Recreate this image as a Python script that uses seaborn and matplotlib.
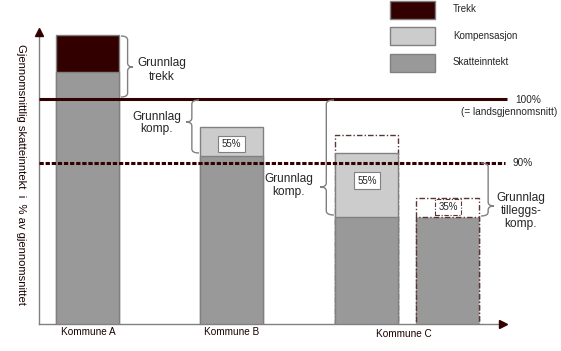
import numpy as np
import pandas as pd
import matplotlib.pyplot as plt
from matplotlib.patches import Rectangle, PathPatch
from matplotlib.path import Path
import seaborn as sns

sns.set_style("white")
plt.rcParams["font.family"] = ["Liberation Sans", "DejaVu Sans"]

# values, in % of national average
bar_ids = ["Kommune A", "Kommune B", "Kommune C", "Kommune C tillegg"]
skatteinntekt = [104.2, 91.0, 81.5, 81.5]
kompensasjon = [0.0, 4.6, 10.1, 0.0]
tilleggskomp = [0.0, 0.0, 2.8, 3.0]
trekk = [5.8, 0.0, 0.0, 0.0]
satser = ["", "55%", "55%", "35%"]
landsgjennomsnitt = 100
terskel = 90
legend_labels = ["Trekk", "Kompensasjon", "Skatteinntekt"]

TREKK = "#330000"
KOMP = "#cccccc"
SKATT = "#999999"
EDGE = "#808080"
DASH = "#5a3535"
DASHSTYLE = (0, (4, 1.5, 1, 1.5))

# layout (x axis runs in pixel units)
bar_x = [87.5, 231.5, 366.5, 447.5]
BAR_W = 63

df = pd.DataFrame({"x": bar_x, "skatt": skatteinntekt, "komp": kompensasjon,
                   "till": tilleggskomp, "trekk": trekk})
df["komp_top"] = df["skatt"] + df["komp"]
df["till_top"] = df["komp_top"] + df["till"]
df["trekk_top"] = df["skatt"] + df["trekk"]

fig = plt.figure(figsize=(5.61, 3.51), dpi=100)
ax = fig.add_axes([39 / 561, 27 / 351, 464 / 561, 292 / 351])


def layer(col, mask, **kw):
    d = df[mask]
    xs = np.sort(d["x"].to_numpy())
    unit = np.diff(xs).min() if len(xs) > 1 else 1
    sns.barplot(data=d, x="x", y=col, native_scale=True, orient="x",
                width=BAR_W / unit, errorbar=None, saturation=1,
                linewidth=1, ax=ax, **kw)


only_till = (df["komp"] == 0) & (df["till"] > 0)
layer("till_top", df["till"] > 0, color="white", edgecolor=DASH, linestyle=DASHSTYLE)
layer("trekk_top", df["trekk"] > 0, color=TREKK, edgecolor=EDGE)
layer("komp_top", df["komp"] > 0, color=KOMP, edgecolor=EDGE)
layer("skatt", ~only_till, color=SKATT, edgecolor=EDGE)
layer("skatt", only_till, color=SKATT, edgecolor=DASH, linestyle=DASHSTYLE)

ax.hlines(landsgjennomsnitt, 39, 507, color=TREKK, lw=2.2, clip_on=False, zorder=3)
ax.hlines(terskel, 39, 505, color=TREKK, lw=2.2, linestyles=[(0, (1.4, 0.6))],
          clip_on=False, zorder=3)

ax.set_xlim(39, 503)
ax.set_ylim(64.68, 110.52)
ax.set_xticks([])
ax.set_yticks([])
ax.set_xlabel("")
ax.set_ylabel("")
sns.despine(ax=ax)
for s in ("left", "bottom"):
    ax.spines[s].set_color(EDGE)
    ax.spines[s].set_linewidth(1)
ax.plot([39], [110.52], marker="^", ms=6, color=TREKK, clip_on=False, zorder=4)
ax.plot([503], [64.68], marker=">", ms=6, color=TREKK, clip_on=False, zorder=4)

# overlay in image pixel coordinates for the annotations
ov = fig.add_axes([0, 0, 1, 1], facecolor="none")
ov.set_xlim(0, 561)
ov.set_ylim(351, 0)
ov.axis("off")


def brace(x_end, x_tip, y0, y1, ym, r=4):
    xs = x_end + 0.55 * (x_tip - x_end)
    verts = [(x_end, y0), (xs, y0), (xs, y0 + r), (xs, ym - r), (xs, ym), (x_tip, ym),
             (xs, ym), (xs, ym + r), (xs, y1 - r), (xs, y1), (x_end, y1)]
    codes = [Path.MOVETO, Path.CURVE3, Path.CURVE3, Path.LINETO, Path.CURVE3, Path.CURVE3,
             Path.CURVE3, Path.CURVE3, Path.LINETO, Path.CURVE3, Path.CURVE3]
    ov.add_patch(PathPatch(Path(verts, codes), fill=False, ec=EDGE, lw=1))


brace(121, 133, 36, 97, 67)
brace(199, 186, 100, 153, 122)
brace(334, 320, 100, 215, 187)
brace(481, 494, 163, 216, 206)

big = dict(fontsize=8.6, ha="center", va="center")
ov.text(162, 70, "Grunnlag\ntrekk", linespacing=1.18, **big)
ov.text(157, 123, "Grunnlag\nkomp.", linespacing=1.05, **big)
ov.text(289, 185.5, "Grunnlag\nkomp.", linespacing=1.12, **big)
ov.text(521, 211, "Grunnlag\ntilleggs-\nkomp.", linespacing=1.15, **big)

small = dict(fontsize=7.2, va="center")
ov.text(515, 100, "100%", ha="left", **small)
ov.text(461, 112, "(= landsgjennomsnitt)", ha="left", **small)
ov.text(513, 163, "90%", ha="left", **small)

box = dict(boxstyle="square,pad=0.35", fc="white", ec=EDGE, lw=0.8)
dbox = dict(boxstyle="square,pad=0.35", fc="white", ec=DASH, lw=0.8, ls=DASHSTYLE)
label_pos = [None, (231.5, 144), (367, 180.5), (448, 207)]
for lab, pos in zip(satser, label_pos):
    if lab:
        ov.text(*pos, lab, fontsize=7, ha="center", va="center",
                bbox=dbox if lab == "35%" else box, zorder=5)

for name, xy in zip(["Kommune A", "Kommune B", "Kommune C"], [(88, 332), (232, 332), (404, 334)]):
    ov.text(*xy, name, fontsize=7.2, ha="center", va="center", color="#1a0000")

ov.text(21, 175, "Gjennomsnittlig skatteinntekt  i  % av gjennomsnittet", rotation=270,
        fontsize=8.1, ha="center", va="center", color="#1a0000")

# legend boxes top right
for i, (lab, col) in enumerate(zip(legend_labels, (TREKK, KOMP, SKATT))):
    y0 = 0.5 + i * 26.6
    ov.add_patch(Rectangle((390, y0), 45, 18, fc=col, ec=EDGE, lw=1))
    ov.text(453, y0 + 8.5, lab, fontsize=7, ha="left", va="center")

fig.savefig("out.png", dpi=100)
